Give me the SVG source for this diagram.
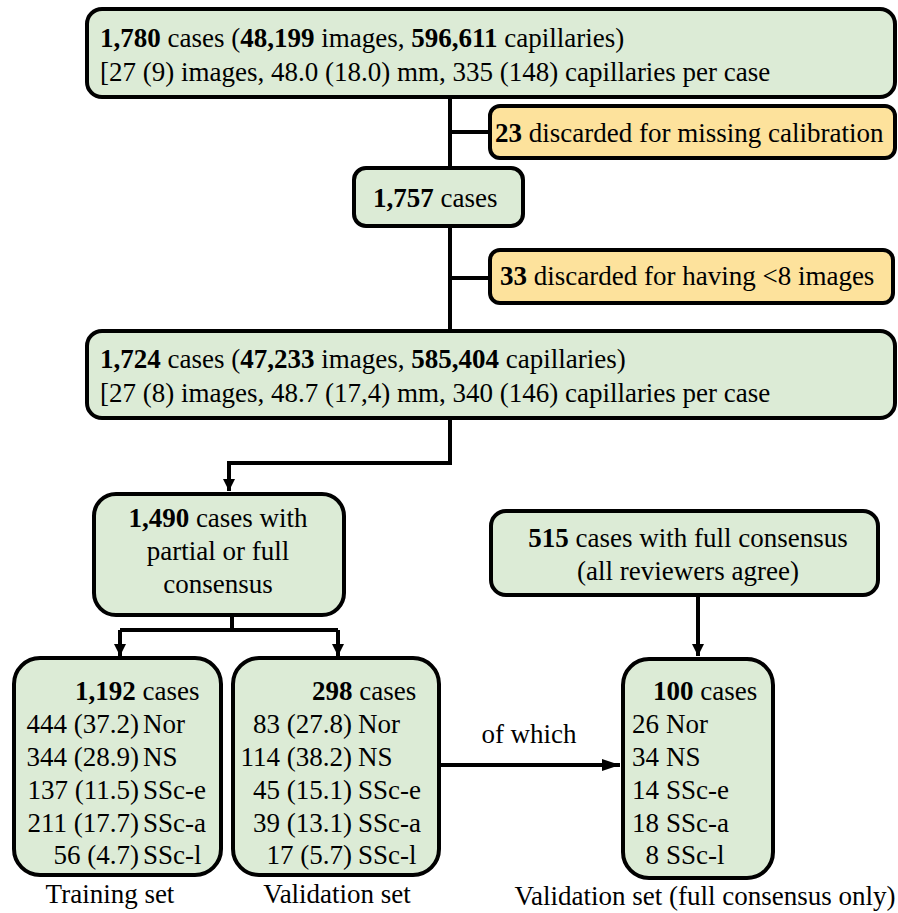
<svg xmlns="http://www.w3.org/2000/svg" width="898" height="913" viewBox="0 0 898 913">
<style>
.g{fill:#dcebd6;stroke:#000;stroke-width:4}
.y{fill:#fde29c;stroke:#000;stroke-width:4}
.c{fill:none;stroke:#000;stroke-width:4}
text{font-family:"Liberation Serif","Times New Roman",serif;font-size:27px;fill:#000}
.m{text-anchor:middle}
.e{text-anchor:end}
.b{font-weight:bold}
</style>
<defs>
<marker id="ah" viewBox="0 0 12 12" refX="12" refY="6" markerWidth="12" markerHeight="12" markerUnits="userSpaceOnUse" orient="auto">
<path d="M0,0 L12,6 L0,12 z" fill="#000"/>
</marker>
<marker id="ah2" viewBox="0 0 18 14" refX="18" refY="7" markerWidth="18" markerHeight="14" markerUnits="userSpaceOnUse" orient="auto">
<path d="M0,1 L18,7 L0,13 z" fill="#000"/>
</marker>
</defs>
<rect width="898" height="913" fill="#fff"/>
<g id="connectors">
<path class="c" d="M450,97 V330"/>
<path class="c" d="M450,132 H490"/>
<path class="c" d="M450,278 H490"/>
<path class="c" d="M450,418 V463 H229 V491" marker-end="url(#ah)"/>
<path class="c" d="M232,615 V630"/>
<path class="c" d="M120,630 H338"/>
<path class="c" d="M120,630 V656" marker-end="url(#ah)"/>
<path class="c" d="M338,630 V656" marker-end="url(#ah)"/>
<path class="c" d="M439,765 H620" marker-end="url(#ah2)"/>
<path class="c" d="M698,595 V656" marker-end="url(#ah)"/>
</g>
<g id="n_all">
<rect class="g" x="87" y="9" width="808" height="88" rx="15"/>
<text x="100" y="47"><tspan class="b">1,780</tspan> cases (<tspan class="b">48,199</tspan> images, <tspan class="b">596,611</tspan> capillaries)</text>
<text x="100" y="81">[27 (9) images, 48.0 (18.0) mm, 335 (148) capillaries per case</text>
</g>
<g id="n_d1">
<rect class="y" x="490" y="106" width="405" height="52" rx="10"/>
<text x="495" y="142"><tspan class="b">23</tspan> discarded for missing calibration</text>
</g>
<g id="n_1757">
<rect class="g" x="354" y="168" width="169" height="58" rx="12"/>
<text x="373" y="207"><tspan class="b">1,757</tspan> cases</text>
</g>
<g id="n_d2">
<rect class="y" x="490" y="250" width="403" height="53" rx="10"/>
<text x="500" y="285"><tspan class="b">33</tspan> discarded for having &lt;8 images</text>
</g>
<g id="n_1724">
<rect class="g" x="87" y="331" width="808" height="87" rx="15"/>
<text x="100" y="368"><tspan class="b">1,724</tspan> cases (<tspan class="b">47,233</tspan> images, <tspan class="b">585,404</tspan> capillaries)</text>
<text x="100" y="402">[27 (8) images, 48.7 (17,4) mm, 340 (146) capillaries per case</text>
</g>
<g id="n_1490">
<rect class="g" x="94" y="494" width="250" height="121" rx="22"/>
<text class="m" x="218" y="527"><tspan class="b">1,490</tspan> cases with</text>
<text class="m" x="218" y="560">partial or full</text>
<text class="m" x="218" y="593">consensus</text>
</g>
<g id="n_train">
<rect class="g" x="14" y="658" width="207" height="217" rx="26"/>
<text x="75" y="700"><tspan class="b">1,192</tspan> cases</text>
<text class="e" x="139" y="733">444 (37.2)</text><text x="143" y="733">Nor</text>
<text class="e" x="139" y="766">344 (28.9)</text><text x="143" y="766">NS</text>
<text class="e" x="139" y="799">137 (11.5)</text><text x="143" y="799">SSc-e</text>
<text class="e" x="139" y="832">211 (17.7)</text><text x="143" y="832">SSc-a</text>
<text class="e" x="139" y="864">56 (4.7)</text><text x="143" y="864">SSc-l</text>
<text class="m" x="110" y="903">Training set</text>
</g>
<g id="n_val">
<rect class="g" x="233" y="658" width="206" height="217" rx="26"/>
<text x="312" y="700"><tspan class="b">298</tspan> cases</text>
<text class="e" x="352" y="733">83 (27.8)</text><text x="358" y="733">Nor</text>
<text class="e" x="352" y="766">114 (38.2)</text><text x="358" y="766">NS</text>
<text class="e" x="352" y="799">45 (15.1)</text><text x="358" y="799">SSc-e</text>
<text class="e" x="352" y="832">39 (13.1)</text><text x="358" y="832">SSc-a</text>
<text class="e" x="352" y="864">17 (5.7)</text><text x="358" y="864">SSc-l</text>
<text class="m" x="337" y="903">Validation set</text>
</g>
<g id="n_515">
<rect class="g" x="491" y="511" width="387" height="84" rx="15"/>
<text class="m" x="688" y="547"><tspan class="b">515</tspan> cases with full consensus</text>
<text class="m" x="688" y="580">(all reviewers agree)</text>
</g>
<g id="n_100">
<rect class="g" x="623" y="659" width="150" height="219" rx="26"/>
<text x="653" y="700"><tspan class="b">100</tspan> cases</text>
<text class="e" x="659" y="733">26</text><text x="666" y="733">Nor</text>
<text class="e" x="659" y="766">34</text><text x="666" y="766">NS</text>
<text class="e" x="659" y="799">14</text><text x="666" y="799">SSc-e</text>
<text class="e" x="659" y="832">18</text><text x="666" y="832">SSc-a</text>
<text class="e" x="659" y="864">8</text><text x="666" y="864">SSc-l</text>
<text class="m" x="705" y="905">Validation set (full consensus only)</text>
</g>
<g id="lbl_ofwhich">
<text class="m" x="529" y="743">of which</text>
</g>
</svg>
